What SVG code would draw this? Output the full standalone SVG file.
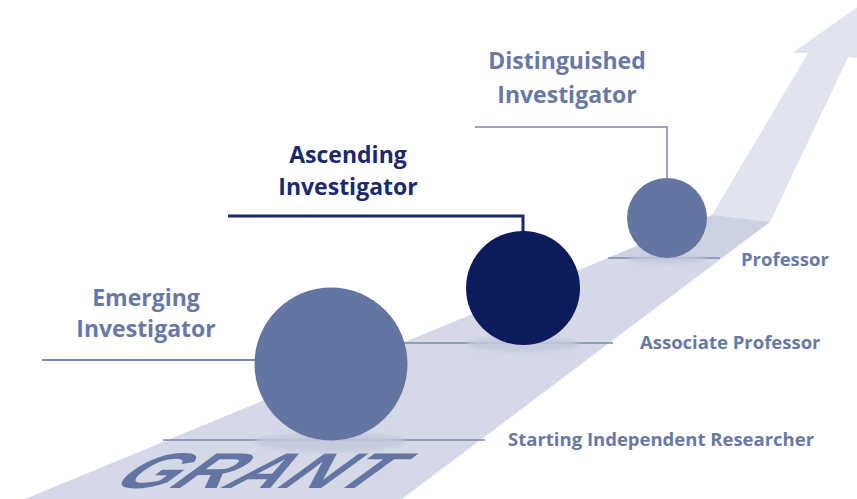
<svg xmlns="http://www.w3.org/2000/svg" width="857" height="499" viewBox="0 0 857 499">
  <defs>
    <style>
      .title { font-family: "Open Sans", "Liberation Sans", sans-serif; font-weight: 700; font-size: 23px; text-anchor: middle; }
      .muted { fill: #6a78a4; }
      .navy { fill: #1b2a6b; }
      .level { font-family: "Open Sans", "Liberation Sans", sans-serif; font-weight: 700; font-size: 18.5px; fill: #6a78a4; }
      .lvl-line { stroke: #7d88ad; stroke-width: 1.5; fill: none; }
      .shadow { fill: #c3c8db; opacity: 0.85; }
    </style>
    <filter id="soft" x="-20%" y="-50%" width="140%" height="200%">
      <feGaussianBlur stdDeviation="2"/>
    </filter>
  </defs>

  <rect width="857" height="499" fill="#ffffff"/>

  <g id="road">
    <polygon points="808,53 712,215 770,222 880,-10 880,40" fill="#e1e4ee"/>
    <polygon points="792,53 862,4 880,4 880,60 808,53" fill="#e1e4ee"/>
    <polygon points="25,499 712,215 770,222 402,499" fill="#d5d9e7"/>
    <polygon points="712,215 770,222 720,258 608,258" fill="#cdd2e2"/>
    <text x="0" y="0" transform="translate(106,488) skewX(-54)" textLength="266" lengthAdjust="spacingAndGlyphs" font-family="'Liberation Sans', Arial, sans-serif" font-weight="700" font-size="50" fill="#6475a3">GRANT</text>
  </g>

  <g id="connectors">
    <line class="lvl-line" x1="163" y1="440" x2="485" y2="440"/>
    <line class="lvl-line" x1="404" y1="343" x2="613" y2="343"/>
    <line class="lvl-line" x1="608" y1="258" x2="720" y2="258"/>
    <line x1="42" y1="360" x2="290" y2="360" stroke="#7d88ad" stroke-width="2"/>
    <polyline points="228,216 523,216 523,232" fill="none" stroke="#1a2a6a" stroke-width="3"/>
    <polyline points="475,127 667,127 667,179" fill="none" stroke="#7d88ad" stroke-width="1.5"/>
  </g>

  <g id="emerging">
    <ellipse class="shadow" cx="330" cy="442" rx="76" ry="10" filter="url(#soft)"/>
    <circle cx="331" cy="364" r="76.5" fill="#6575a2"/>
    <text class="title muted" x="146" y="306">Emerging</text>
    <text class="title muted" x="146" y="337">Investigator</text>
  </g>

  <g id="ascending">
    <ellipse class="shadow" cx="523" cy="344" rx="56" ry="8" filter="url(#soft)"/>
    <circle cx="523" cy="288" r="57" fill="#0b1b5c"/>
    <text class="title navy" x="348" y="163">Ascending</text>
    <text class="title navy" x="348" y="195">Investigator</text>
  </g>

  <g id="distinguished">
    <ellipse class="shadow" cx="667" cy="259" rx="40" ry="5" filter="url(#soft)"/>
    <circle cx="667" cy="218" r="40" fill="#6575a2"/>
    <text class="title muted" x="567" y="69">Distinguished</text>
    <text class="title muted" x="567" y="103">Investigator</text>
  </g>

  <g id="level-professor">
    <text class="level" x="741" y="266">Professor</text>
  </g>
  <g id="level-associate">
    <text class="level" x="640" y="349">Associate Professor</text>
  </g>
  <g id="level-starting">
    <text class="level" x="508" y="446">Starting Independent Researcher</text>
  </g>
</svg>
